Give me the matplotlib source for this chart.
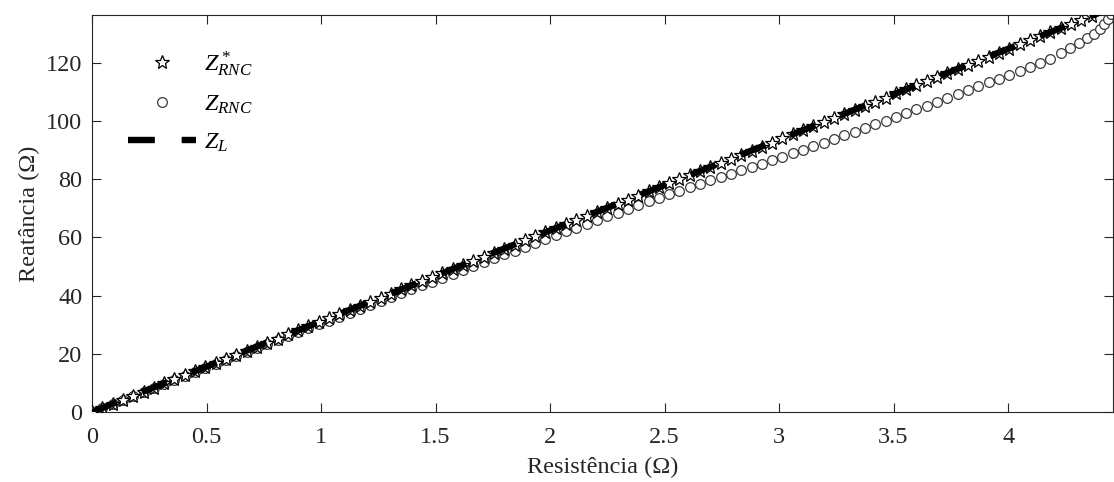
import matplotlib.pyplot as plt
import matplotlib

matplotlib.rcParams.update({
    "font.family": "Liberation Serif",
    "font.size": 17.5,
    "mathtext.fontset": "custom",
    "mathtext.rm": "Liberation Serif",
    "mathtext.it": "Liberation Serif:italic",
})

# Z*_RNC (stars) - resistance and reactance
r_star = [0.000, 0.045, 0.090, 0.135, 0.180, 0.225, 0.270, 0.315, 0.360, 0.405,
          0.450, 0.495, 0.540, 0.585, 0.630, 0.675, 0.720, 0.765, 0.810, 0.855,
          0.900, 0.945, 0.990, 1.035, 1.080, 1.125, 1.170, 1.215, 1.260, 1.305,
          1.350, 1.395, 1.440, 1.485, 1.530, 1.575, 1.620, 1.665, 1.710, 1.755,
          1.800, 1.845, 1.890, 1.935, 1.980, 2.025, 2.070, 2.115, 2.160, 2.205,
          2.250, 2.295, 2.340, 2.385, 2.430, 2.475, 2.520, 2.565, 2.610, 2.655,
          2.700, 2.745, 2.790, 2.835, 2.880, 2.925, 2.970, 3.015, 3.060, 3.105,
          3.150, 3.195, 3.240, 3.285, 3.330, 3.375, 3.420, 3.465, 3.510, 3.555,
          3.600, 3.645, 3.690, 3.735, 3.780, 3.825, 3.870, 3.915, 3.960, 4.005,
          4.050, 4.095, 4.140, 4.185, 4.230, 4.275, 4.320, 4.365]
x_star = [0.0, 1.40, 2.81, 4.21, 5.62, 7.02, 8.42, 9.83, 11.23, 12.64,
          14.04, 15.44, 16.85, 18.25, 19.66, 21.06, 22.46, 23.87, 25.27, 26.68,
          28.08, 29.48, 30.89, 32.29, 33.70, 35.10, 36.50, 37.91, 39.31, 40.72,
          42.12, 43.52, 44.93, 46.33, 47.74, 49.14, 50.54, 51.95, 53.35, 54.76,
          56.16, 57.56, 58.97, 60.37, 61.78, 63.18, 64.58, 65.99, 67.39, 68.80,
          70.20, 71.60, 73.01, 74.41, 75.82, 77.22, 78.62, 80.03, 81.43, 82.84,
          84.24, 85.64, 87.05, 88.45, 89.86, 91.26, 92.66, 94.07, 95.47, 96.88,
          98.28, 99.68, 101.09, 102.49, 103.90, 105.30, 106.70, 108.11, 109.51, 110.92,
          112.32, 113.72, 115.13, 116.53, 117.94, 119.34, 120.74, 122.15, 123.55, 124.96,
          126.36, 127.76, 129.17, 130.57, 131.98, 133.38, 134.78, 136.19]

# Z_RNC (circles)
r_rnc = [0.000, 0.045, 0.090, 0.135, 0.180, 0.225, 0.270, 0.315, 0.360, 0.405,
         0.450, 0.495, 0.540, 0.585, 0.630, 0.675, 0.720, 0.765, 0.810, 0.855,
         0.900, 0.945, 0.990, 1.035, 1.080, 1.125, 1.170, 1.215, 1.260, 1.305,
         1.350, 1.395, 1.440, 1.485, 1.530, 1.575, 1.620, 1.665, 1.710, 1.755,
         1.800, 1.845, 1.890, 1.935, 1.980, 2.025, 2.070, 2.115, 2.160, 2.205,
         2.250, 2.295, 2.340, 2.385, 2.430, 2.475, 2.520, 2.565, 2.610, 2.655,
         2.700, 2.745, 2.790, 2.835, 2.880, 2.925, 2.970, 3.015, 3.060, 3.105,
         3.150, 3.195, 3.240, 3.285, 3.330, 3.375, 3.420, 3.465, 3.510, 3.555,
         3.600, 3.645, 3.690, 3.735, 3.780, 3.825, 3.870, 3.915, 3.960, 4.005,
         4.050, 4.095, 4.140, 4.185, 4.230, 4.270, 4.310, 4.345, 4.375, 4.400,
         4.420, 4.437, 4.450]
x_rnc = [0.0, 1.37, 2.76, 4.13, 5.52, 6.89, 8.26, 9.64, 11.01, 12.40,
         13.77, 15.14, 16.51, 17.87, 19.24, 20.59, 21.95, 23.31, 24.67, 26.03,
         27.38, 28.73, 30.09, 31.44, 32.79, 34.13, 35.47, 36.81, 38.15, 39.49,
         40.83, 42.17, 43.51, 44.85, 46.19, 47.52, 48.85, 50.19, 51.52, 52.86,
         54.19, 55.52, 56.85, 58.17, 59.51, 60.82, 62.12, 63.42, 64.71, 66.00,
         67.28, 68.56, 69.84, 71.11, 72.39, 73.66, 74.92, 76.10, 77.27, 78.44,
         79.60, 80.76, 81.93, 83.10, 84.27, 85.44, 86.61, 87.81, 89.01, 90.22,
         91.42, 92.63, 93.85, 95.09, 96.36, 97.62, 98.90, 100.19, 101.48, 102.78,
         104.07, 105.36, 106.66, 107.97, 109.30, 110.63, 111.96, 113.30, 114.61, 115.98,
         117.32, 118.66, 120.10, 121.50, 123.30, 125.00, 126.80, 128.50, 130.10, 131.80,
         133.50, 135.20, 136.90]

# Z_L line endpoints
r_line = [0.0, 4.46]
x_line = [0.0, 139.2]

fig = plt.figure(figsize=(11.14, 4.82), dpi=100)
ax = fig.add_axes([92 / 1114, 1 - 412 / 482, 1020.5 / 1114, 397 / 482])

ax.plot(r_rnc, x_rnc, "o", ls="none", ms=7, mfc="white", mec="#3a3a3a", mew=0.9,
        label=r"$Z_{RNC}$", zorder=2)
ax.plot(r_star, x_star, "*", ls="none", ms=10, mfc="white", mec="black", mew=0.9,
        label=r"$Z^*_{RNC}$", zorder=3)
ln, = ax.plot(r_line, x_line, color="black", lw=4.6, label=r"$Z_L$", zorder=4,
              solid_capstyle="butt", dash_capstyle="butt")
ln.set_dashes((4.2, 4.2))

handles, labels = ax.get_legend_handles_labels()
order = [1, 0, 2]
ax.legend([handles[i] for i in order], [labels[i] for i in order],
          loc="upper left", bbox_to_anchor=(0.019, 0.955), frameon=False,
          handlelength=2.8, handletextpad=0.3, labelspacing=0.62, borderpad=0.2)

ax.set_xlim(0, 4.456)
ax.set_ylim(0, 136.5)
ax.set_xticks([0, 0.5, 1, 1.5, 2, 2.5, 3, 3.5, 4])
ax.set_xticklabels(["0", "0.5", "1", "1.5", "2", "2.5", "3", "3.5", "4"])
ax.set_yticks([0, 20, 40, 60, 80, 100, 120])
ax.tick_params(direction="in", length=6.5, width=0.8, top=True, right=True,
               colors="#262626", labelcolor="#262626")
ax.tick_params(axis="x", pad=11)
ax.tick_params(axis="y", pad=7)
for s in ax.spines.values():
    s.set_color("#262626")
    s.set_linewidth(0.8)

ax.set_xlabel("Resistência (Ω)", color="#262626", labelpad=6)
ax.set_ylabel("Reatância (Ω)", color="#262626", labelpad=4)

plt.savefig("out.png", dpi=100)
plt.close()
